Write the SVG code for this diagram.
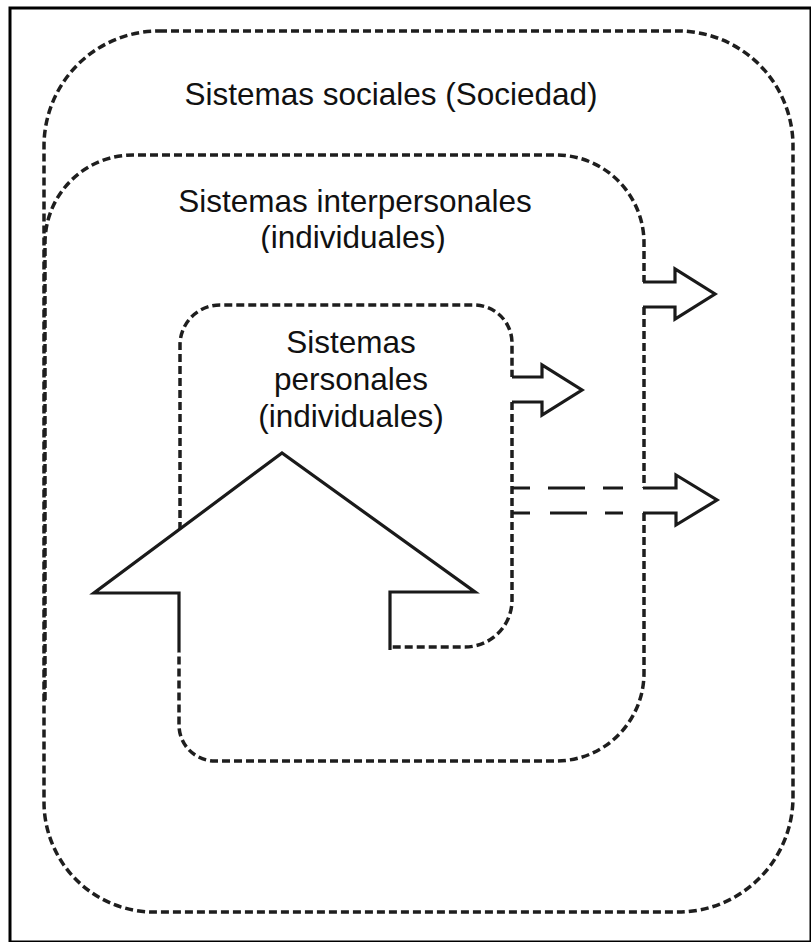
<svg xmlns="http://www.w3.org/2000/svg" width="811" height="942" viewBox="0 0 811 942">
  <style>
    .dash { fill: none; stroke: #1e1e1e; stroke-width: 3.5; stroke-dasharray: 8 4; }
    .solid { fill: none; stroke: #1a1a1a; stroke-width: 3.2; stroke-linejoin: miter; }
    .ldash { fill: none; stroke: #1a1a1a; stroke-width: 3.2; }
    .lbl { font-family: "Liberation Sans", Arial, sans-serif; font-size: 31.5px; fill: #111; text-anchor: middle; }
  </style>
  <defs>
    <clipPath id="clipInter">
      <rect x="100" y="150" width="600" height="103"/>
    </clipPath>
  </defs>
  <rect x="0" y="0" width="811" height="942" fill="#ffffff"/>
  <rect x="10" y="8" width="801" height="934" fill="none" stroke="#000" stroke-width="3"/>

  <g id="sistemas-sociales">
    <path class="dash" d="M159,31 H678 A115,115 0 0 1 793,146 V797 A115,115 0 0 1 678,912 H154 A110,110 0 0 1 44,802 V146 A115,115 0 0 1 159,31 Z"/>
    <text class="lbl" x="391" y="105">Sistemas sociales (Sociedad)</text>
  </g>

  <g id="sistemas-interpersonales">
    <path class="dash" d="M45,700 V243 A88,88 0 0 1 133,155 H556 A88,88 0 0 1 644,243 V282"/>
    <path class="dash" d="M644,307 V488"/>
    <path class="dash" d="M644,513 V673 A88,88 0 0 1 556,761 H215 A36,36 0 0 1 179,725 V652"/>
    <g clip-path="url(#clipInter)">
      <text class="lbl" x="355" y="212">Sistemas interpersonales</text>
      <text class="lbl" x="353" y="248">(individuales)</text>
    </g>
  </g>

  <g id="sistemas-personales">
    <path class="dash" d="M180,530 V345 A40,40 0 0 1 220,305 H474 A38,38 0 0 1 512,343 V377"/>
    <path class="dash" d="M512,402 V600 A47,47 0 0 1 465,647 H390"/>
    <text class="lbl" x="351" y="353">Sistemas</text>
    <text class="lbl" x="351" y="390">personales</text>
    <text class="lbl" x="351" y="427">(individuales)</text>
  </g>

  <g id="flecha-entrada">
    <path class="solid" style="fill:#ffffff" d="M179,652 V593 H94 L282,453 L475,592 H390 V650"/>
  </g>

  <g id="conectores">
    <path class="solid" d="M512,377 H542 V365 L582,390 L542,415 V402 H512"/>
    <path class="solid" d="M643,282 H675 V269 L715,294 L675,319 V307 H643"/>
    <path class="solid" d="M643,488 H676 V475 L717,500 L676,525 V513 H643"/>
    <path class="ldash" d="M512,488 H530 M548,488 H585 M603,488 H623"/>
    <path class="ldash" d="M512,513 H530 M550,513 H587 M605,513 H623"/>
  </g>
</svg>
